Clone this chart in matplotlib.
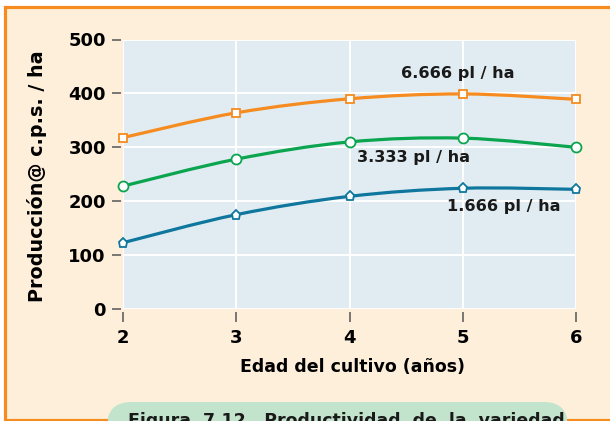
"""
Productividad por edad del cultivo, tres densidades de siembra.
Saves out.png (610x421).
"""

import numpy as np
import matplotlib
matplotlib.use('Agg')
import matplotlib.pyplot as plt
from matplotlib.path import Path
from matplotlib.patches import PathPatch, Rectangle, FancyBboxPatch

W, H = 610, 421

# data
EDAD = [2, 3, 4, 5, 6]
PROD_6666 = [318, 364, 390, 399, 389]
PROD_3333 = [228, 278, 310, 317, 300]
PROD_1666 = [123, 175, 209, 224, 222]
SERIES_LABELS = ['6.666 pl / ha', '3.333 pl / ha', '1.666 pl / ha']
Y_TICKS = [0, 100, 200, 300, 400, 500]

ORANGE = '#F68B1F'
GREEN = '#0BA550'
BLUE = '#0F779E'
CREAM = '#FEEFDA'
PLOT_BG = '#E1ECF2'
BOX_GREEN = '#C2E4CC'


def px(x, y):
    # pixel (top-left origin) -> figure fraction
    return x / W, 1 - y / H


def smooth_path(xs, ys):
    # Catmull-Rom through the points, as cubic Bezier segments
    xs = np.asarray(xs, float)
    ys = np.asarray(ys, float)
    pts = np.column_stack([xs, ys])
    n = len(pts)
    verts = [pts[0]]
    codes = [Path.MOVETO]
    for i in range(n - 1):
        p0 = pts[max(i - 1, 0)]
        p1 = pts[i]
        p2 = pts[i + 1]
        p3 = pts[min(i + 2, n - 1)]
        c1 = p1 + (p2 - p0) / 6.0
        c2 = p2 - (p3 - p1) / 6.0
        verts += [c1, c2, p2]
        codes += [Path.CURVE4] * 3
    return Path(verts, codes)


fig = plt.figure(figsize=(W / 100, H / 100), dpi=100, facecolor='white')

# cream panel with orange frame (right side runs off the picture)
x0, y0 = px(4.5, 419.5)
x1, y1 = px(640, 7)
fig.patches.append(Rectangle((x0, y0), x1 - x0, y1 - y0, transform=fig.transFigure,
                             facecolor=CREAM, edgecolor=ORANGE, linewidth=2.3, zorder=-2))

# caption box at the bottom, cut off by the picture edge
bx0, by0 = px(107, 440)
bx1, by1 = px(568, 402)
fig.patches.append(FancyBboxPatch((bx0, by0), bx1 - bx0, by1 - by0,
                                  boxstyle='round,pad=0,rounding_size=0.04',
                                  transform=fig.transFigure, mutation_aspect=W / H,
                                  facecolor=BOX_GREEN, edgecolor='none', zorder=-1))
fig.text(*px(128, 412), 'Figura  7.12.  Productividad  de  la  variedad',
         fontsize=12.5, fontweight='bold', color='#1a1a1a', va='top', ha='left')

ax = fig.add_axes([123 / W, (H - 309) / H, 453 / W, 269.5 / H])
ax.set_zorder(2)
ax.set_facecolor(PLOT_BG)
ax.set_xlim(2, 6)
ax.set_ylim(0, 500)
for s in ax.spines.values():
    s.set_visible(False)
ax.spines['left'].set_position(('outward', 1.5))
ax.spines['bottom'].set_position(('outward', 2.2))

ax.set_xticks(EDAD)
ax.set_yticks(Y_TICKS)
ax.grid(True, color='white', linewidth=1.4)
ax.set_axisbelow(True)
ax.tick_params(axis='y', length=6.5, width=1.1, color='#555555', pad=4.3,
               labelsize=13)
ax.tick_params(axis='x', length=7.2, width=1.1, color='#555555', pad=5,
               labelsize=13)
for lab in ax.get_xticklabels() + ax.get_yticklabels():
    lab.set_fontweight('bold')

series = [(PROD_6666, ORANGE, 's', 6.2), (PROD_3333, GREEN, 'o', 7.2), (PROD_1666, BLUE, 'p', 6.8)]
for vals, color, marker, ms in series:
    ax.add_patch(PathPatch(smooth_path(EDAD, vals), facecolor='none', edgecolor=color,
                           linewidth=2.3, zorder=3, clip_on=False))
    ax.plot(EDAD, vals, ls='none', marker=marker, markersize=ms, markerfacecolor='white',
            markeredgecolor=color, markeredgewidth=1.3, zorder=4, clip_on=False)

label_pos = [(4.96, 436), (4.565, 282), (5.364, 191)]
for text, (lx, ly) in zip(SERIES_LABELS, label_pos):
    ax.text(lx, ly, text, ha='center', va='center', fontsize=11.6,
            fontweight='bold', color='#1a1a1a', zorder=5)

ax.set_xlabel('Edad del cultivo (años)', fontsize=12.5, fontweight='bold', va='baseline')
ax.xaxis.set_label_coords((353 - 123) / 453, -(372 - 309) / 269.5)
ax.set_ylabel('Producción@ c.p.s. / ha', fontsize=13.8, fontweight='bold', va='center')
ax.yaxis.set_label_coords((37 - 123) / 453, (309 - 176) / 269.5)

fig.savefig('out.png', dpi=100, facecolor=fig.get_facecolor())
